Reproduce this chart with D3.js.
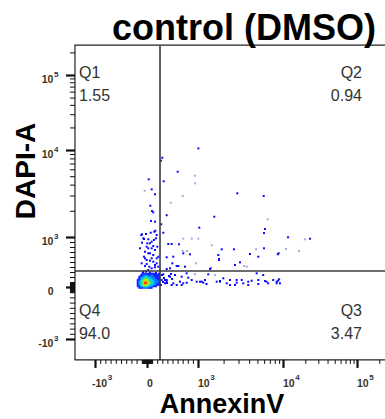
<!DOCTYPE html>
<html><head><meta charset="utf-8">
<script src="https://cdn.jsdelivr.net/npm/d3@7"></script>
<style>
html,body{margin:0;padding:0;background:#fff;}
svg{display:block;}
text{font-family:"Liberation Sans",Arial,Helvetica,sans-serif;}
</style></head><body>
<svg id="chart" width="385" height="419"></svg>
<script>
// ---- data -------------------------------------------------------------
const chartTitle = "control (DMSO)";
const xTitle = "AnnexinV";
const yTitle = "DAPI-A";

const majorTicks = [-1000, 0, 1000, 10000, 100000];
const majorBase = ["-10", "0", "10", "10", "10"];
const majorExp = ["3", "", "3", "4", "5"];
const minorTicks = [-900, -800, -700, -600, -500, -400, -300, -200, -100,
  -90, -80, -70, -60, -50, -40, -30, -20, -10,
  10, 20, 30, 40, 50, 60, 70, 80, 90,
  100, 200, 300, 400, 500, 600, 700, 800, 900,
  2000, 3000, 4000, 5000, 6000, 7000, 8000, 9000,
  20000, 30000, 40000, 50000, 60000, 70000, 80000, 90000, 200000];

const xRange = [-1720, 262144];
const yRange = [-1740, 250000];
const gateX = 255;   // AnnexinV threshold
const gateY = 320;   // DAPI threshold

const quadNames = ["Q1", "Q2", "Q3", "Q4"];
const quadPct = ["1.55", "0.94", "3.47", "94.0"];

// individual events [AnnexinV, DAPI-A]
const events = [
  [1010,10500],[300,8150],[274,7530],[602,5630],[33,4600],[327,4370],[92,3530],[157,3100],
  [2900,3180],[5930,2960],[65,2290],[98,1990],[123,1920],[386,1780],[1555,1710],[157,1500],
  [78,1530],[280,1400],[1035,1280],[6135,1236],[5976,1112],[163,1180],[-96,1074],[-58,960],
  [190,1054],[11700,994],[417,860],[484,860],[627,854],[1900,754],[2650,754],[5976,774],
  [1734,640],[4087,660],[5120,606],[8670,654],[8900,674],[1767,560],[843,654],[515,606],
  [386,594],[2724,440],[3118,494],[1410,374],[745,406],[582,420],[451,374],[711,674],
  [320,1120],[1384,360],[1767,540],[386,360],[496,474],[613,420],[23200,966],
  [-110,1054],[-19,1083],[73,1120],[143,1150],[-71,974],[6,874],[-96,886],[92,906],
  [123,820],[25,774],[-38,706],[59,674],[157,740],[-58,606],[-6,540],[92,574],
  [123,506],[190,474],[-102,474],[-38,420],[45,406],[157,394],[221,606],[202,806],
  [-135,774],[25,954],[176,974],[59,874],[137,940],[-6,806],[92,774],[25,674],
  [123,640],[-38,574],[190,574],[59,526],[-6,460],[157,440],[92,374],[25,340],
  [221,406],[-77,300],[59,290],[176,280],[-19,310],
  [320,254],[451,206],[549,240],[386,140],[647,106],[778,274],[809,186],[876,140],
  [974,106],[1110,106],[1208,140],[1320,254],[1660,106],[1815,120],[1985,174],[2180,74],
  [2380,140],[2724,40],[2850,140],[3270,140],[3410,74],[3900,40],[4280,126],[4900,274],
  [5120,140],[5850,240],[6135,120],[6700,74],[7670,140],[8420,106],[9000,154],[9200,74],
  [1155,86],[711,74],[680,206],[582,40],[484,40],[353,74],[288,140],[386,106],
  [515,74],[680,40],[778,86],[1056,106],[1260,60],[1815,106],[2380,40],[2850,86],
  [3900,106],[5120,60],[6400,106],[8420,74],[8750,126],[294,240],[333,180],[392,80],
  [431,220],[274,40],[353,140],[490,160],[470,260],[314,100]
];
// single events drawn lighter
const faintEvents = [
  [940,5070],[940,4140],[-44,3400],[700,2960],[465,2480],[6610,1600],[711,966],[876,966],
  [1010,966],[19800,954],[1450,834],[4815,754],[16450,720],[10980,760],[700,720],[784,720],
  [3474,420],[960,474],[3750,406],[941,254],[1585,240]
];

// dense population: density level (0 = empty .. 7 = highest) on a grid
const coreX = [-173, -144, -115, -87, -58, -29, 0, 29, 59, 88, 118, 147, 176, 206, 235];
const coreY = [260, 230, 200, 170, 140, 110, 80, 50, 20, -10];
const coreDensity = [
  [0,0,0,1,1,1,1,1,1,1,1,1,1,0,1],
  [0,0,1,1,2,2,2,1,1,2,1,1,1,1,1],
  [0,1,1,2,2,3,3,2,2,2,2,1,1,1,1],
  [0,1,2,3,3,4,4,3,3,2,2,2,1,1,1],
  [1,1,2,3,4,5,5,4,3,3,2,2,2,1,1],
  [1,2,3,4,5,6,5,4,4,3,3,2,2,2,1],
  [1,2,3,4,6,7,6,5,4,3,3,2,2,1,1],
  [1,2,3,4,5,5,5,4,3,3,2,2,1,1,1],
  [1,1,2,3,3,4,3,3,2,2,1,1,1,0,0],
  [0,1,1,1,2,2,2,1,1,1,0,0,0,0,0]
];

(function draw() {
  // linear between -10^3 and 10^3, logarithmic beyond (biexponential-style display)
  function tf(v) {
    const a = Math.abs(v);
    return a <= 1000 ? v / 1000 : Math.sign(v) * (1 + Math.log10(a / 1000));
  }
  const knots = [-10000, -1000, 0, 1000, 10000, 100000].map(tf);
  const xs = d3.scaleLinear().domain(knots).range([10, 95, 147, 198, 283, 357]);
  const ys = d3.scaleLinear().domain(knots).range([426, 339, 287, 237, 150, 75]);
  const X = v => xs(tf(v));
  const Y = v => ys(tf(v));

  const pL = X(xRange[0]), pR = X(xRange[1]);
  const pT = Y(yRange[1]), pB = Y(yRange[0]);

  const svg = d3.select("#chart");

  svg.append("defs").append("clipPath").attr("id", "plotClip")
    .append("rect").attr("x", pL).attr("y", pT)
    .attr("width", pR - pL).attr("height", pB - pT);

  const plot = svg.append("g").attr("clip-path", "url(#plotClip)");

  const levelColor = d3.scaleLinear()
    .domain([1, 2, 3, 4, 5, 6, 7])
    .range(["#1a22ff", "#0a78ff", "#00d2ff", "#2ee67a", "#c6f000", "#ffb000", "#ff1e00"]);
  const cells = [];
  coreY.forEach((yv, i) => coreX.forEach((xv, j) => {
    const lv = coreDensity[i][j];
    if (lv > 0) cells.push({x: xv, y: yv, lv});
  }));
  cells.sort((a, b) => a.lv - b.lv);

  plot.append("g").selectAll("rect").data(faintEvents).join("rect")
    .attr("x", d => X(d[0]) - 1).attr("y", d => Y(d[1]) - 1)
    .attr("width", 2).attr("height", 2).attr("fill", "#a9a9e6");

  plot.append("g").selectAll("rect").data(events).join("rect")
    .attr("x", d => X(d[0]) - 1).attr("y", d => Y(d[1]) - 1)
    .attr("width", 2).attr("height", 2).attr("fill", "#0b0bff");

  plot.append("g").selectAll("rect").data(cells).join("rect")
    .attr("x", d => X(d.x) - 1.2).attr("y", d => Y(d.y) - 1.2)
    .attr("width", 2.4).attr("height", 2.4).attr("fill", d => levelColor(d.lv));

  // quadrant gates
  plot.append("line").attr("x1", X(gateX)).attr("x2", X(gateX)).attr("y1", pT).attr("y2", pB)
    .attr("stroke", "#3c3c3c").attr("stroke-width", 1.6);
  plot.append("line").attr("x1", pL).attr("x2", pR).attr("y1", Y(gateY)).attr("y2", Y(gateY))
    .attr("stroke", "#3c3c3c").attr("stroke-width", 1.6);

  // frame
  svg.append("path")
    .attr("d", `M${pR},${pT}H${pL}V${pB}H${pR}`)
    .attr("fill", "none").attr("stroke", "#222").attr("stroke-width", 1.2);

  // axis ticks
  function tickAxis(axisFn, vals, size, width, transform) {
    const g = svg.append("g").attr("transform", transform).attr("color", "#111")
      .call(axisFn.tickValues(vals.map(tf)).tickSize(size).tickSizeOuter(0).tickFormat(""));
    g.select(".domain").remove();
    g.selectAll("line").attr("stroke-width", width);
    return g;
  }
  const inX = v => v >= xRange[0] && v <= xRange[1];
  const inY = v => v >= yRange[0] && v <= yRange[1];
  tickAxis(d3.axisBottom(xs), minorTicks.filter(inX), 4, 1, `translate(0,${pB})`);
  tickAxis(d3.axisBottom(xs), majorTicks, 8, 2.2, `translate(0,${pB})`);
  tickAxis(d3.axisLeft(ys), minorTicks.filter(inY), 5, 1, `translate(${pL},0)`);
  tickAxis(d3.axisLeft(ys), majorTicks, 9, 2.2, `translate(${pL},0)`);

  // tick labels
  const labColor = "#3b3320", supColor = "#24364f";
  majorTicks.forEach((v, i) => {
    const x0 = X(v) + (majorBase[i].startsWith("-") ? -3 : 0);
    const t = svg.append("text").attr("x", x0).attr("y", pB + 27)
      .attr("font-size", 10.5).attr("font-weight", "bold").attr("fill", labColor)
      .text(majorBase[i]);
    if (majorExp[i]) {
      const w = t.node().getComputedTextLength();
      svg.append("text").attr("x", x0 + w + 0.5).attr("y", pB + 20)
        .attr("font-size", 8).attr("font-weight", "bold").attr("fill", supColor).text(majorExp[i]);
    }
  });
  majorTicks.forEach((v, i) => {
    const yb = Y(v) + 7.5;
    svg.append("text").attr("x", pL - 21.5).attr("y", yb).attr("text-anchor", "end")
      .attr("font-size", 10.5).attr("font-weight", "bold").attr("fill", labColor)
      .text(majorBase[i]);
    if (majorExp[i]) {
      svg.append("text").attr("x", pL - 21).attr("y", yb - 5.5)
        .attr("font-size", 8).attr("font-weight", "bold").attr("fill", supColor).text(majorExp[i]);
    }
  });

  // quadrant annotations
  const qColor = "#333";
  const qx = [pL + 4, pR - 26, pR - 26, pL + 4];
  const qAnchor = ["start", "end", "end", "start"];
  const qy = [pT + 33, pT + 33, pB - 44, pB - 44];
  quadNames.forEach((q, i) => {
    svg.append("text").attr("x", qx[i]).attr("y", qy[i]).attr("text-anchor", qAnchor[i])
      .attr("font-size", 16).attr("fill", qColor).text(q);
    svg.append("text").attr("x", qx[i]).attr("y", qy[i] + 23).attr("text-anchor", qAnchor[i])
      .attr("font-size", 16).attr("fill", qColor).text(quadPct[i]);
  });

  // titles
  svg.append("text").attr("x", 244).attr("y", 40).attr("text-anchor", "middle")
    .attr("font-size", 36).attr("font-weight", "bold").attr("fill", "#000").text(chartTitle);
  svg.append("text").attr("x", 222).attr("y", 413).attr("text-anchor", "middle")
    .attr("font-size", 27).attr("font-weight", "bold").attr("fill", "#000").text(xTitle);
  svg.append("text").attr("transform", "translate(35,171) rotate(-90)").attr("text-anchor", "middle")
    .attr("font-size", 28).attr("font-weight", "bold").attr("fill", "#000").text(yTitle);
})();
</script>
</body></html>
